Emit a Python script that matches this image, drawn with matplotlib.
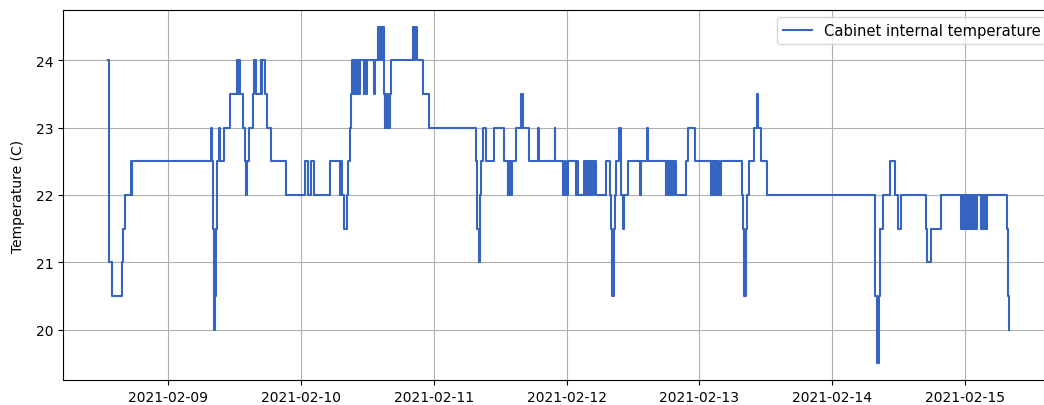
import matplotlib
matplotlib.use("Agg")
import matplotlib.pyplot as plt
import matplotlib.dates as mdates
import pandas as pd

# change points of the cabinet sensor (value holds until the next time)
times = [
    "2021-02-08 13:05", "2021-02-08 13:10", "2021-02-08 13:52", "2021-02-08 15:41",
    "2021-02-08 15:52", "2021-02-08 16:06", "2021-02-08 17:18", "2021-02-08 17:25",
    "2021-02-08 17:30",
    "2021-02-09 07:39", "2021-02-09 07:50", "2021-02-09 08:00", "2021-02-09 08:05",
    "2021-02-09 08:10", "2021-02-09 08:15", "2021-02-09 08:25", "2021-02-09 08:35",
    "2021-02-09 08:44", "2021-02-09 08:50", "2021-02-09 09:09", "2021-02-09 09:20",
    "2021-02-09 10:03", "2021-02-09 11:08", "2021-02-09 12:29", "2021-02-09 12:40",
    "2021-02-09 12:50", "2021-02-09 12:57", "2021-02-09 13:34", "2021-02-09 13:51",
    "2021-02-09 14:05", "2021-02-09 14:17", "2021-02-09 14:35", "2021-02-09 15:22",
    "2021-02-09 15:29", "2021-02-09 15:55", "2021-02-09 16:41", "2021-02-09 16:45",
    "2021-02-09 16:55", "2021-02-09 17:28", "2021-02-09 17:54", "2021-02-09 18:38",
    "2021-02-09 21:13",
    "2021-02-10 00:47", "2021-02-10 01:12", "2021-02-10 01:52", "2021-02-10 02:17",
    "2021-02-10 05:10", "2021-02-10 07:06", "2021-02-10 07:15", "2021-02-10 07:28",
    "2021-02-10 07:42", "2021-02-10 08:19", "2021-02-10 08:30", "2021-02-10 08:47",
    "2021-02-10 09:03", "2021-02-10 09:13", "2021-02-10 09:25", "2021-02-10 09:35",
    "2021-02-10 09:45", "2021-02-10 09:55", "2021-02-10 10:05", "2021-02-10 10:15",
    "2021-02-10 10:25", "2021-02-10 10:35", "2021-02-10 11:20", "2021-02-10 11:27",
    "2021-02-10 11:49", "2021-02-10 11:56", "2021-02-10 13:08", "2021-02-10 13:20",
    "2021-02-10 13:51", "2021-02-10 14:00", "2021-02-10 14:10", "2021-02-10 14:25",
    "2021-02-10 14:35", "2021-02-10 14:56", "2021-02-10 15:05", "2021-02-10 15:15",
    "2021-02-10 15:25", "2021-02-10 15:35", "2021-02-10 15:45", "2021-02-10 16:01",
    "2021-02-10 16:17", "2021-02-10 20:15", "2021-02-10 20:25", "2021-02-10 20:35",
    "2021-02-10 20:59", "2021-02-10 22:04", "2021-02-10 23:05",
    "2021-02-11 07:40", "2021-02-11 07:50", "2021-02-11 08:08", "2021-02-11 08:20",
    "2021-02-11 08:34", "2021-02-11 08:56", "2021-02-11 09:21", "2021-02-11 10:51",
    "2021-02-11 12:47", "2021-02-11 13:23", "2021-02-11 13:30", "2021-02-11 13:40",
    "2021-02-11 13:50", "2021-02-11 14:00", "2021-02-11 14:11", "2021-02-11 14:47",
    "2021-02-11 15:48", "2021-02-11 16:05", "2021-02-11 17:11", "2021-02-11 18:49",
    "2021-02-11 18:59", "2021-02-11 21:50", "2021-02-11 22:00", "2021-02-11 23:24",
    "2021-02-11 23:40", "2021-02-11 23:50",
    "2021-02-12 00:17", "2021-02-12 01:40", "2021-02-12 01:50", "2021-02-12 02:06",
    "2021-02-12 03:11", "2021-02-12 03:20", "2021-02-12 03:30", "2021-02-12 03:40",
    "2021-02-12 03:50", "2021-02-12 04:00", "2021-02-12 04:10", "2021-02-12 04:20",
    "2021-02-12 04:30", "2021-02-12 04:45", "2021-02-12 04:55", "2021-02-12 05:18",
    "2021-02-12 07:06", "2021-02-12 07:53", "2021-02-12 08:05", "2021-02-12 08:15",
    "2021-02-12 08:30", "2021-02-12 08:44", "2021-02-12 09:00", "2021-02-12 09:31",
    "2021-02-12 09:49", "2021-02-12 09:55", "2021-02-12 10:08", "2021-02-12 10:25",
    "2021-02-12 11:02", "2021-02-12 13:19", "2021-02-12 13:25", "2021-02-12 14:31",
    "2021-02-12 14:46", "2021-02-12 17:58", "2021-02-12 18:10", "2021-02-12 18:20",
    "2021-02-12 18:30", "2021-02-12 18:40", "2021-02-12 18:50", "2021-02-12 19:00",
    "2021-02-12 19:10", "2021-02-12 19:20", "2021-02-12 19:30", "2021-02-12 19:46",
    "2021-02-12 21:35", "2021-02-12 21:59", "2021-02-12 23:12",
    "2021-02-13 02:10", "2021-02-13 02:20", "2021-02-13 02:30", "2021-02-13 02:40",
    "2021-02-13 02:50", "2021-02-13 03:00", "2021-02-13 03:10", "2021-02-13 03:20",
    "2021-02-13 03:30", "2021-02-13 03:51", "2021-02-13 07:47", "2021-02-13 07:55",
    "2021-02-13 08:11", "2021-02-13 08:25", "2021-02-13 08:41", "2021-02-13 08:58",
    "2021-02-13 09:52", "2021-02-13 10:30", "2021-02-13 10:40", "2021-02-13 11:05",
    "2021-02-13 12:18",
    "2021-02-14 07:43", "2021-02-14 08:13", "2021-02-14 08:30", "2021-02-14 08:45",
    "2021-02-14 09:18", "2021-02-14 10:29", "2021-02-14 11:20", "2021-02-14 11:56",
    "2021-02-14 12:25", "2021-02-14 16:57", "2021-02-14 17:15", "2021-02-14 17:51",
    "2021-02-14 19:40", "2021-02-14 23:17", "2021-02-14 23:30", "2021-02-14 23:40",
    "2021-02-14 23:50",
    "2021-02-15 00:00", "2021-02-15 00:10", "2021-02-15 00:20", "2021-02-15 00:30",
    "2021-02-15 00:40", "2021-02-15 00:50", "2021-02-15 01:00", "2021-02-15 01:10",
    "2021-02-15 01:20", "2021-02-15 01:30", "2021-02-15 01:40", "2021-02-15 01:55",
    "2021-02-15 02:05", "2021-02-15 02:18", "2021-02-15 02:53", "2021-02-15 03:05",
    "2021-02-15 03:15", "2021-02-15 03:25", "2021-02-15 03:35", "2021-02-15 03:45",
    "2021-02-15 03:55", "2021-02-15 04:06", "2021-02-15 07:43", "2021-02-15 07:50",
    "2021-02-15 08:01",
]
temps = [
    24.0, 21.0, 20.5, 21.0,
    21.5, 22.0, 22.5, 22.0,
    22.5,
    23.0, 22.5, 22.0, 21.5,
    20.5, 20.0, 20.5, 21.5,
    22.0, 22.5, 23.0, 22.5,
    23.0, 23.5, 24.0, 23.5,
    24.0, 23.5, 23.0, 22.5,
    22.0, 22.5, 23.0, 23.5,
    24.0, 23.5, 24.0, 23.5,
    24.0, 23.5, 23.0, 22.5,
    22.0,
    22.5, 22.0, 22.5, 22.0,
    22.5, 22.0, 22.5, 22.0,
    21.5, 22.0, 22.5, 23.0,
    23.5, 24.0, 23.5, 24.0,
    23.5, 24.0, 23.5, 24.0,
    23.5, 24.0, 23.5, 24.0,
    23.5, 24.0, 23.5, 24.0,
    24.5, 24.0, 24.5, 24.0,
    24.5, 23.5, 23.0, 23.5,
    23.0, 23.5, 23.0, 23.5,
    24.0, 24.5, 24.0, 24.5,
    24.0, 23.5, 23.0,
    22.5, 21.5, 21.0, 22.0,
    22.5, 23.0, 22.5, 23.0,
    22.5, 22.0, 22.5, 22.0,
    22.5, 22.0, 22.5, 23.0,
    23.5, 23.0, 22.5, 23.0,
    22.5, 23.0, 22.5, 22.0,
    22.5, 22.0,
    22.5, 22.0, 22.5, 22.0,
    22.5, 22.0, 22.5, 22.0,
    22.5, 22.0, 22.5, 22.0,
    22.5, 22.0, 22.5, 22.0,
    22.5, 22.0, 21.5, 20.5,
    21.5, 22.0, 22.5, 23.0,
    22.5, 22.0, 21.5, 22.0,
    22.5, 22.0, 22.5, 23.0,
    22.5, 22.0, 22.5, 22.0,
    22.5, 22.0, 22.5, 22.0,
    22.5, 22.0, 22.5, 22.0,
    22.5, 23.0, 22.5,
    22.0, 22.5, 22.0, 22.5,
    22.0, 22.5, 22.0, 22.5,
    22.0, 22.5, 22.0, 21.5,
    20.5, 21.5, 22.0, 22.5,
    23.0, 23.5, 23.0, 22.5,
    22.0,
    20.5, 19.5, 20.5, 21.5,
    22.0, 22.5, 22.0, 21.5,
    22.0, 21.5, 21.0, 21.5,
    22.0, 21.5, 22.0, 21.5,
    22.0,
    21.5, 22.0, 21.5, 22.0,
    21.5, 22.0, 21.5, 22.0,
    21.5, 22.0, 21.5, 22.0,
    21.5, 22.0, 21.5, 22.0,
    21.5, 22.0, 21.5, 22.0,
    21.5, 22.0, 21.5, 20.5,
    20.0,
]
label = "Cabinet internal temperature"

t = pd.to_datetime(times)

fig = plt.figure(figsize=(10.44, 4.06), dpi=100)
# the original figure was cropped on the right, so the axes run past the edge
ax = fig.add_axes([63 / 1044, 25 / 406, 991 / 1044, 370 / 406])
ax.plot(t, temps, drawstyle="steps-post", color="#3565c0", linewidth=1.5, label=label)
ax.set_ylabel("Temperature (C)", labelpad=7.5)
ax.set_yticks([20, 21, 22, 23, 24])
ax.xaxis.set_major_locator(mdates.DayLocator())
ax.xaxis.set_major_formatter(mdates.DateFormatter("%Y-%m-%d"))
ax.grid(True)
ax.legend(loc="upper right", fontsize=10.6)

fig.savefig("out.png", dpi=100)
